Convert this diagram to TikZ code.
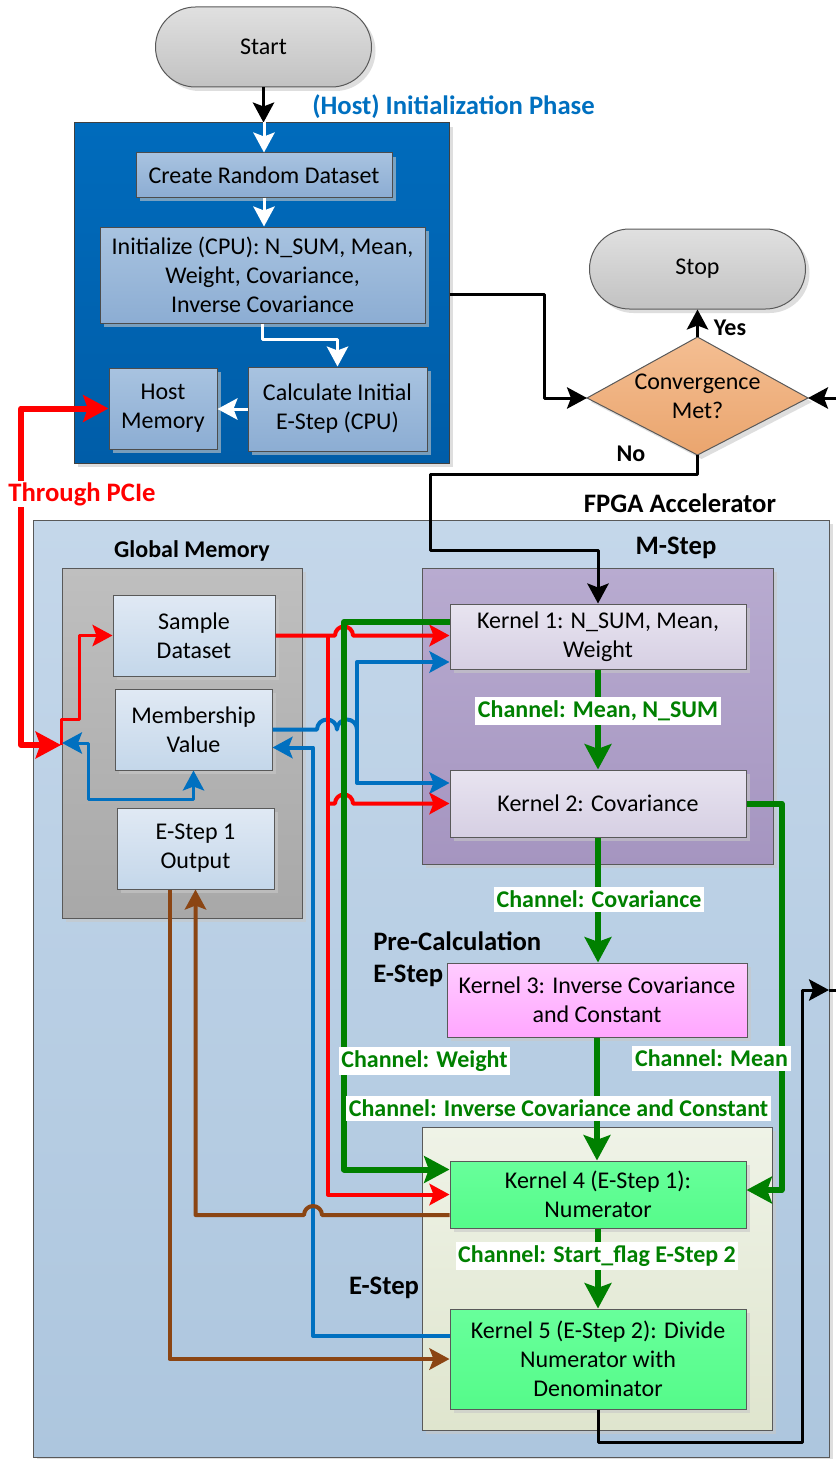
\documentclass[tikz,border=0pt]{standalone}
\usepackage{fontspec}
\setmainfont{Carlito}
\usetikzlibrary{arrows.meta,shadows,calc}

\definecolor{cRed}{HTML}{FF0000}
\definecolor{cBlue}{HTML}{0070C0}
\definecolor{cGreen}{HTML}{008000}
\definecolor{cBrown}{HTML}{8B4513}
\definecolor{pillTop}{HTML}{E0E0E0}
\definecolor{pillBot}{HTML}{C2C2C2}
\definecolor{hostTop}{HTML}{006BBC}
\definecolor{hostBot}{HTML}{005DA8}
\definecolor{hiTop}{HTML}{A8C3E0}
\definecolor{hiBot}{HTML}{8CADD3}
\definecolor{fpgaTop}{HTML}{C4D7EA}
\definecolor{fpgaBot}{HTML}{ADC6DE}
\definecolor{gmTop}{HTML}{BFBFBF}
\definecolor{gmBot}{HTML}{A8A8A8}
\definecolor{memTop}{HTML}{E0E9F4}
\definecolor{memBot}{HTML}{C4D7EA}
\definecolor{msTop}{HTML}{B8ABD0}
\definecolor{msBot}{HTML}{A595C0}
\definecolor{kmTop}{HTML}{E8E4F0}
\definecolor{kmBot}{HTML}{D6CFE3}
\definecolor{kpTop}{HTML}{FFCCFF}
\definecolor{kpBot}{HTML}{FFA6FF}
\definecolor{esTop}{HTML}{EFF3E7}
\definecolor{esBot}{HTML}{DFE5CE}
\definecolor{kgTop}{HTML}{68FF9B}
\definecolor{kgBot}{HTML}{55FB8A}
\definecolor{dmTop}{HTML}{F4BE92}
\definecolor{dmBot}{HTML}{EAA56E}
\definecolor{edgec}{HTML}{595959}
\definecolor{shadowc}{HTML}{C8C8C8}

\begin{document}
\begin{tikzpicture}[x=0.75pt,y=-0.75pt,
  wh/.style 2 args={minimum width=#1*0.75pt,minimum height=#2*0.75pt},
  txt/.style={font=\fontsize{18}{21.75}\selectfont,align=center,inner sep=0pt},
  shd/.style={general shadow={shadow xshift=3pt,shadow yshift=-3pt,fill=shadowc,opacity=0.6}},
  pill/.style={txt,draw=edgec,line width=0.75pt,rounded corners=30pt,top color=pillTop,bottom color=pillBot,shd},
  frame/.style={draw=edgec,line width=0.75pt,inner sep=0pt,shd},
  hostitem/.style={txt,draw=black!70,line width=0.75pt,top color=hiTop,bottom color=hiBot,shd},
  memitem/.style={txt,draw=edgec,line width=0.75pt,top color=memTop,bottom color=memBot,shd},
  kmstep/.style={txt,draw=edgec,line width=0.75pt,top color=kmTop,bottom color=kmBot,shd},
  kpre/.style={txt,draw=edgec,line width=0.75pt,top color=kpTop,bottom color=kpBot,shd},
  kestep/.style={txt,draw=edgec,line width=0.75pt,top color=kgTop,bottom color=kgBot,shd},
  ttl/.style={font=\bfseries\fontsize{20}{24}\selectfont,inner sep=0pt},
  ttlsm/.style={font=\bfseries\fontsize{18}{21.75}\selectfont,inner sep=0pt},
  chan/.style={font=\bfseries\fontsize{18}{21.75}\selectfont,text=cGreen,fill=white,inner xsep=2pt,inner ysep=3pt},
  arr/.style={-{Stealth[length=15pt,width=16pt,inset=3pt]}},
  biarr/.style={{Stealth[length=15pt,width=16pt,inset=3pt]}-{Stealth[length=15pt,width=16pt,inset=3pt]}},
  garr/.style={-{Stealth[length=19pt,width=20pt,inset=3.5pt]}},
  lines/.style={line join=round},
  blkln/.style={lines,draw=black,line width=2.25pt},
  whtln/.style={lines,draw=white,line width=2.25pt},
  redln/.style={lines,draw=cRed,line width=3pt},
  redthin/.style={lines,draw=cRed,line width=2.25pt},
  bluln/.style={lines,draw=cBlue,line width=3pt},
  bluthin/.style={lines,draw=cBlue,line width=2.25pt},
  grnln/.style={lines,draw=cGreen,line width=4.5pt},
  brnln/.style={lines,draw=cBrown,line width=3pt},
  pcieln/.style={lines,draw=cRed,line width=4.5pt,
    {Stealth[length=19pt,width=20pt,inset=3.5pt]}-{Stealth[length=19pt,width=20pt,inset=3.5pt]}}
]
\useasboundingbox[fill=white] (0,0) rectangle (836,1459);

% ---------------- host side ----------------
\node[pill,wh={216}{80}] (start) at (263.5,47) {Start};
\node[pill,wh={216}{80}] (stop) at (697.5,269) {Stop};

\node[frame,draw=black!75,wh={375}{340},top color=hostTop,bottom color=hostBot] (hostgrp) at (261.5,293) {};
\node[ttl,text=cBlue,anchor=west] (hosttitle) at (312,107) {(Host) Initialization Phase};

\node[hostitem,wh={256}{44}] (create) at (264,175) {Create Random Dataset};
\node[hostitem,wh={325}{96}] (init) at (262.5,275) {Initialize (CPU): N\_SUM, Mean,\\Weight, Covariance,\\Inverse Covariance};
\node[hostitem,wh={179}{84}] (calc) at (337.5,409) {Calculate Initial\\E-Step (CPU)};
\node[hostitem,wh={108}{81}] (hostmem) at (163,408.5) {Host\\Memory};

% decision
\coordinate (conv-w) at (587,398);
\coordinate (conv-n) at (697.5,337);
\coordinate (conv-e) at (808,398);
\coordinate (conv-s) at (697.5,455);
\path[draw=edgec,line width=0.75pt,top color=dmTop,bottom color=dmBot,shd]
  (conv-w) -- (conv-n) -- (conv-e) -- (conv-s) -- cycle;
\node[txt] (conv) at (697.5,396) {Convergence\\Met?};

% ---------------- FPGA side ----------------
\node[frame,wh={796}{937},top color=fpgaTop,bottom color=fpgaBot] (fpga) at (431,988.5) {};
\node[ttl] (fpgatitle) at (680,503) {FPGA Accelerator};

\node[frame,wh={240}{350},top color=gmTop,bottom color=gmBot] (glob) at (182,743) {};
\node[ttlsm] (globtitle) at (192,551) {Global Memory};
\node[memitem,wh={162}{81}] (sample) at (194,635.5) {Sample\\Dataset};
\node[memitem,wh={157}{81}] (member) at (193.5,729.5) {Membership\\Value};
\node[memitem,wh={157}{81}] (estepout) at (195.5,848.5) {E-Step 1\\Output};

\node[frame,wh={351}{296},top color=msTop,bottom color=msBot] (mstep) at (597.5,716) {};
\node[ttl] (mtitle) at (676,548) {M-Step};
\node[kmstep,wh={296}{65}] (k1) at (598,636.5) {Kernel 1: N\_SUM, Mean,\\Weight};
\node[kmstep,wh={296}{67}] (k2) at (598,803.5) {Kernel 2: Covariance};

\node[ttl,align=left,anchor=west] (pretitle) at (373,959) {Pre-Calculation\\E-Step};
\node[kpre,wh={300}{74}] (k3) at (597,1000) {Kernel 3: Inverse Covariance\\and Constant};

\node[frame,wh={350}{303},top color=esTop,bottom color=esBot] (estep) at (597,1278.5) {};
\node[ttl] (etitle) at (384,1288) {E-Step};
\node[kestep,wh={296}{67}] (k4) at (598,1194.5) {Kernel 4 (E-Step 1):\\Numerator};
\node[kestep,wh={296}{100}] (k5) at (598,1359) {Kernel 5 (E-Step 2): Divide\\Numerator with\\Denominator};

% ---------------- control flow ----------------
\draw[blkln,arr] (start.south) -- (start.south |- hostgrp.north);
\draw[whtln,arr] (create.north |- hostgrp.north) -- (create.north);
\draw[whtln,arr] (create.south) -- (create.south |- init.north);
\draw[whtln,arr] (init.south) -- ++(0,15.5) -| (calc.north);
\draw[whtln,arr] (calc.west) -- (calc.west -| hostmem.east);

\draw[blkln,arr] ($(hostgrp.east)+(0,1)$) -| (544,398) -- (conv-w);
\draw[blkln,arr] (conv-n) -- (stop.south);
\coordinate (rin) at (836,398);
\draw[blkln,arr] (rin) -- (conv-e);
\draw[blkln,arr] (conv-s) |- (430,474) -- (430,550) -| (k1.north);

\coordinate (fpgaout) at (829,990);
\coordinate (rout) at (836,990);
\draw[blkln,arr] (k5.south) -- ++(0,33) -| (802,990) -- (fpgaout);
\draw[blkln] (fpgaout) -- (rout);

% ---------------- host <-> global memory ----------------
\coordinate (pcie) at (61,745);
\draw[pcieln] (pcie) -- (21,745) |- (hostmem.west);
\draw[redthin,arr] (pcie) -- (61,719) -- (79,719) |- (sample.west);
\coordinate (gmb) at (62,743);
\draw[bluthin,biarr] (gmb) -- (88,743) |- ($(member.south)+(0,29)$) -- (member.south);

% ---------------- data paths ----------------
% membership values into kernels 1 and 2
\coordinate (bbus) at (357,729.5);
\draw[bluln] (member.east) -- (317,729.5)
  arc[start angle=180,end angle=0,radius=7.5pt]
  arc[start angle=180,end angle=0,radius=7.5pt] -- (bbus);
\draw[bluln,arr] (bbus) |- ($(k1.west)+(0,25.5)$);
\draw[bluln,arr] (bbus) |- ($(k2.west)+(0,-20.5)$);
% membership values written back by kernel 5
\draw[bluln,arr] ($(k5.west)+(0,-23)$) -| (313,747.5) -- ($(member.east)+(0,18)$);

% sample dataset into kernels 1, 2 and 4
\coordinate (rbus) at (328,635.5);
\draw[redln,arr] (sample.east) -- (335,635.5)
  arc[start angle=180,end angle=0,radius=6.75pt] -- (k1.west |- sample.east);
\draw[redln,arr] (rbus |- k2.west) -- (335,803.5)
  arc[start angle=180,end angle=0,radius=6.75pt] -- (k2.west);
\draw[redln,arr] (rbus) |- (k4.west);

% E-step 1 output
\draw[brnln,arr] ($(k4.west)+(0,20.5)$) -- (322,1215)
  arc[start angle=0,end angle=180,radius=6.75pt] -| (estepout.south);
\draw[brnln,arr] ($(estepout.south)+(-26,0)$) |- (k5.west);

% channels
\draw[grnln,garr] ($(k1.west)+(0,-14.5)$) -| (344,1169.5) -- ($(k4.west)+(0,-25)$);
\draw[grnln,garr] (k2.east) -- ++(35,0) |- ($(k4.east)+(0,-4.5)$);
\draw[grnln,garr] (k1.south) -- (k2.north);
\draw[grnln,garr] (k2.south) -- (k2.south |- k3.north);
\draw[grnln,garr] (k3.south) -- (k3.south |- k4.north);
\draw[grnln,garr] (k4.south) -- (k5.north);

\node[chan] (cmean1) at (598,711) {Channel: Mean, N\_SUM};
\node[chan] (ccov) at (599,899) {Channel: Covariance};
\node[chan] (cweight) at (424.5,1061) {Channel: Weight};
\node[chan] (cmean2) at (711.5,1058) {Channel: Mean};
\node[chan] (cinv) at (558.5,1108) {Channel: Inverse Covariance and Constant};
\node[chan] (cflag) at (597,1256) {Channel: Start\_flag E-Step 2};

% ---------------- labels ----------------
\node[ttl,text=cRed,fill=white,inner sep=1pt] (pcielbl) at (82,494) {Through PCIe};
\node[ttlsm] (yes) at (730,328) {Yes};
\node[ttlsm] (no) at (631,454) {No};
\end{tikzpicture}
\end{document}
